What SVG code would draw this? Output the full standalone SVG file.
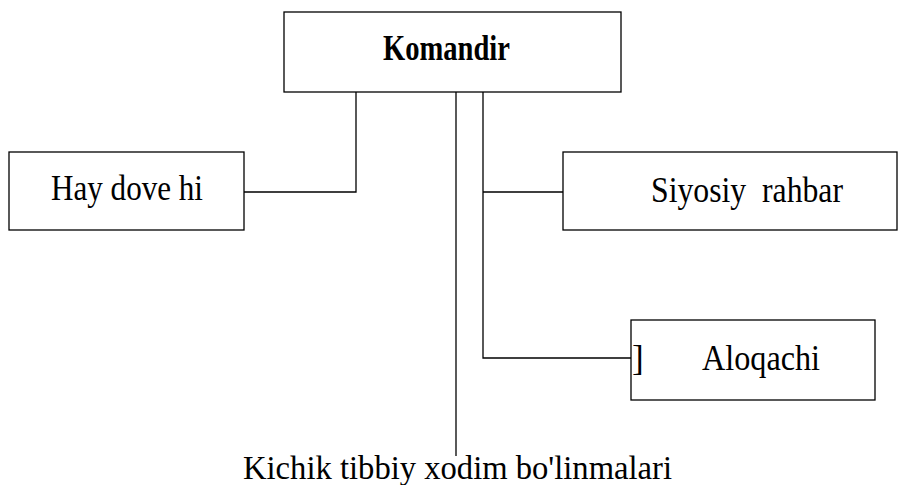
<svg xmlns="http://www.w3.org/2000/svg" width="899" height="485" viewBox="0 0 899 485">
<style>
.box{fill:#fff;stroke:#000;stroke-width:1.3}
.ln{fill:none;stroke:#000;stroke-width:1.3}
.t{font-family:"Liberation Serif","Times New Roman",serif;font-size:35px;fill:#000}
.b{font-weight:bold}
</style>
<rect width="899" height="485" fill="#fff"/>
<g id="connectors">
<path class="ln" d="M356,92 V192 H244"/>
<path class="ln" d="M456,92 V456"/>
<path class="ln" d="M483,92 V358 H631 M483,192 H563"/>
</g>
<g id="komandir">
<rect class="box" x="284" y="12" width="337" height="80"/>
<text class="t b" x="383" y="60" textLength="127" lengthAdjust="spacingAndGlyphs">Komandir</text>
</g>
<g id="haydovchi">
<rect class="box" x="9" y="152" width="235" height="78"/>
<text class="t" x="51" y="200" textLength="152" lengthAdjust="spacingAndGlyphs">Hay dove hi</text>
</g>
<g id="siyosiy">
<rect class="box" x="563" y="152" width="334" height="78"/>
<text class="t" x="651" y="202" textLength="192" lengthAdjust="spacingAndGlyphs" xml:space="preserve">Siyosiy  rahbar</text>
</g>
<g id="aloqachi">
<rect class="box" x="631" y="320" width="244" height="80"/>
<text class="t" x="632" y="370">]</text>
<text class="t" x="702" y="370" textLength="118" lengthAdjust="spacingAndGlyphs">Aloqachi</text>
</g>
<g id="kichik">
<text class="t" x="243" y="479" style="font-size:33px" textLength="429" lengthAdjust="spacingAndGlyphs">Kichik tibbiy xodim bo'linmalari</text>
</g>
</svg>
